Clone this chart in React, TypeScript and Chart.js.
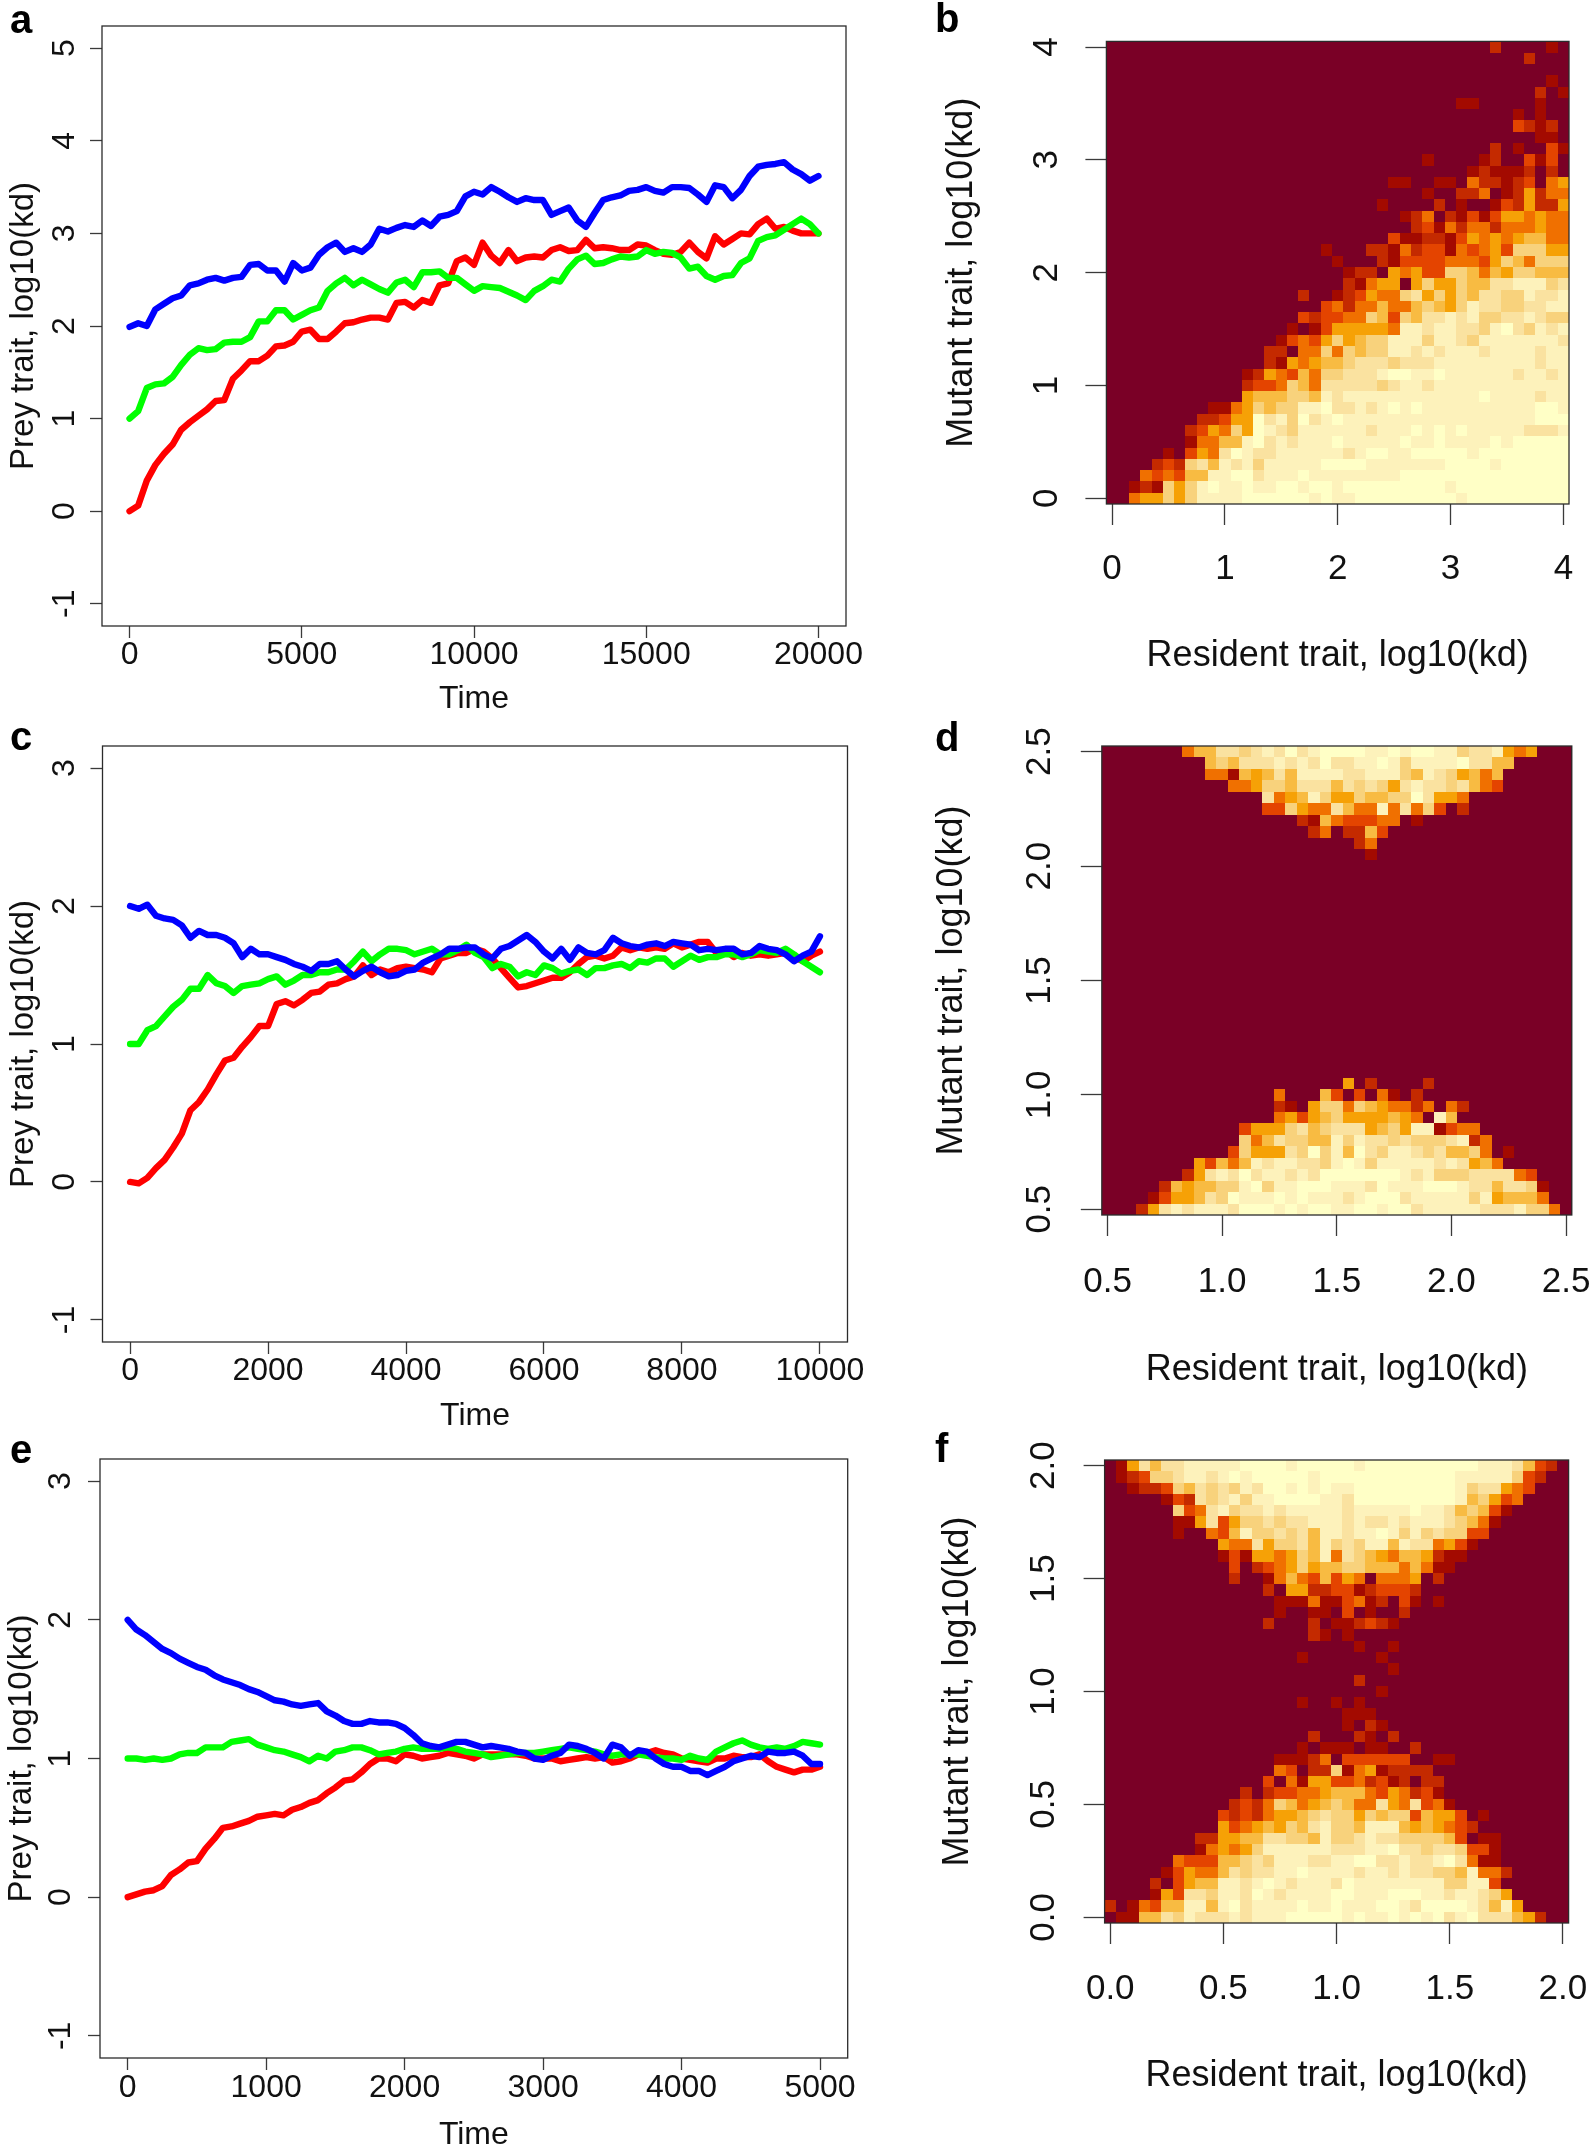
import React, { useEffect, useRef } from "react";
import { Chart, registerables } from "chart.js";

Chart.register(...registerables);

const FONT = '"Liberation Sans", Arial, sans-serif';
const RED = "#ff0000";
const GREEN = "#00ff00";
const BLUE = "#0000ff";

// ---- line panels: values at evenly spaced times ----
const aBlue = [1.99,2.03,2.0,2.18,2.24,2.3,2.33,2.44,2.46,2.5,2.52,2.49,2.52,2.53,2.66,2.67,2.6,2.6,2.48,2.68,2.6,2.63,2.77,2.85,2.9,2.8,2.84,2.8,2.88,3.05,3.02,3.06,3.09,3.07,3.14,3.08,3.18,3.2,3.24,3.4,3.45,3.42,3.5,3.45,3.39,3.34,3.38,3.36,3.36,3.2,3.24,3.28,3.14,3.07,3.22,3.36,3.39,3.41,3.46,3.47,3.5,3.46,3.44,3.5,3.5,3.49,3.42,3.34,3.52,3.5,3.38,3.47,3.62,3.72,3.74,3.75,3.77,3.69,3.64,3.57,3.62];
const aGreen = [1.0,1.08,1.33,1.37,1.38,1.45,1.58,1.69,1.76,1.74,1.75,1.82,1.83,1.83,1.88,2.05,2.05,2.17,2.17,2.07,2.12,2.17,2.2,2.38,2.46,2.52,2.44,2.5,2.45,2.4,2.36,2.47,2.5,2.42,2.58,2.58,2.59,2.52,2.52,2.45,2.38,2.43,2.42,2.41,2.37,2.33,2.28,2.38,2.43,2.5,2.48,2.62,2.72,2.76,2.67,2.68,2.72,2.75,2.74,2.75,2.82,2.78,2.8,2.79,2.74,2.62,2.64,2.54,2.5,2.54,2.55,2.68,2.73,2.92,2.96,2.98,3.04,3.1,3.16,3.1,3.0];
const aRed = [0,0.06,0.33,0.5,0.62,0.72,0.88,0.96,1.03,1.1,1.19,1.2,1.43,1.52,1.62,1.62,1.68,1.78,1.79,1.83,1.94,1.96,1.86,1.86,1.94,2.03,2.04,2.07,2.09,2.09,2.07,2.25,2.26,2.2,2.28,2.25,2.44,2.46,2.7,2.74,2.66,2.9,2.76,2.68,2.82,2.7,2.74,2.75,2.74,2.82,2.85,2.81,2.82,2.93,2.84,2.85,2.84,2.82,2.82,2.88,2.87,2.82,2.78,2.77,2.8,2.9,2.8,2.73,2.97,2.88,2.94,3.0,2.99,3.1,3.16,3.05,3.07,3.03,3.0,3.0,3.0];

const cBlue = [2.0,1.98,2.01,1.93,1.91,1.9,1.86,1.77,1.82,1.79,1.79,1.77,1.73,1.63,1.69,1.65,1.65,1.63,1.61,1.58,1.56,1.53,1.58,1.58,1.6,1.54,1.49,1.53,1.56,1.52,1.49,1.5,1.53,1.54,1.59,1.62,1.65,1.69,1.69,1.7,1.7,1.65,1.62,1.69,1.71,1.75,1.79,1.74,1.67,1.62,1.69,1.61,1.7,1.66,1.65,1.68,1.77,1.73,1.71,1.7,1.72,1.73,1.71,1.74,1.73,1.72,1.68,1.69,1.68,1.69,1.69,1.65,1.66,1.71,1.69,1.68,1.65,1.6,1.64,1.67,1.78];
const cGreen = [1.0,1.0,1.1,1.13,1.2,1.27,1.32,1.4,1.4,1.5,1.44,1.42,1.37,1.42,1.43,1.44,1.47,1.49,1.43,1.46,1.5,1.5,1.52,1.52,1.54,1.54,1.6,1.67,1.6,1.65,1.69,1.69,1.68,1.65,1.67,1.69,1.65,1.65,1.68,1.72,1.66,1.63,1.55,1.58,1.56,1.49,1.52,1.5,1.57,1.55,1.51,1.53,1.54,1.5,1.55,1.55,1.57,1.58,1.55,1.6,1.59,1.62,1.62,1.56,1.6,1.64,1.61,1.63,1.63,1.65,1.65,1.63,1.65,1.68,1.67,1.66,1.69,1.65,1.6,1.56,1.52];
const cRed = [0,-0.01,0.03,0.1,0.16,0.25,0.35,0.52,0.58,0.67,0.78,0.88,0.9,0.98,1.05,1.13,1.13,1.29,1.31,1.28,1.32,1.37,1.38,1.43,1.44,1.47,1.49,1.57,1.5,1.54,1.52,1.55,1.56,1.55,1.54,1.52,1.62,1.64,1.66,1.66,1.69,1.67,1.62,1.55,1.48,1.41,1.42,1.44,1.46,1.48,1.48,1.52,1.58,1.63,1.64,1.62,1.64,1.7,1.68,1.7,1.69,1.7,1.69,1.73,1.7,1.72,1.74,1.74,1.66,1.68,1.63,1.66,1.64,1.65,1.64,1.65,1.66,1.63,1.6,1.64,1.67];

const eBlue = [2.0,1.93,1.89,1.84,1.79,1.76,1.72,1.69,1.66,1.64,1.6,1.57,1.55,1.53,1.5,1.48,1.45,1.42,1.41,1.39,1.38,1.39,1.4,1.34,1.31,1.27,1.25,1.25,1.27,1.26,1.26,1.25,1.22,1.17,1.11,1.09,1.08,1.1,1.12,1.12,1.1,1.08,1.09,1.08,1.07,1.05,1.04,1.0,0.99,1.02,1.04,1.1,1.09,1.07,1.04,1.0,1.1,1.08,1.02,1.06,1.05,1.0,0.96,0.94,0.94,0.91,0.91,0.88,0.91,0.94,0.98,1.0,1.02,1.01,1.05,1.04,1.04,1.05,1.02,0.96,0.96];
const eGreen = [1.0,1.0,0.99,1.0,0.99,1.0,1.03,1.04,1.04,1.08,1.08,1.08,1.12,1.13,1.14,1.1,1.08,1.06,1.05,1.03,1.01,0.98,1.02,1.0,1.05,1.06,1.08,1.08,1.06,1.03,1.04,1.05,1.07,1.08,1.07,1.07,1.07,1.08,1.07,1.05,1.04,1.03,1.01,1.02,1.03,1.04,1.04,1.04,1.05,1.06,1.07,1.08,1.07,1.06,1.05,1.03,1.02,1.03,1.03,1.03,1.02,1.01,1.0,1.0,0.99,1.02,1.0,0.99,1.05,1.08,1.11,1.13,1.1,1.08,1.07,1.08,1.07,1.09,1.12,1.11,1.1];
const eRed = [0,0.02,0.04,0.05,0.08,0.16,0.2,0.25,0.26,0.35,0.42,0.5,0.51,0.53,0.55,0.58,0.59,0.6,0.59,0.63,0.65,0.68,0.7,0.75,0.79,0.84,0.85,0.9,0.96,1.0,1.0,0.98,1.03,1.02,1.0,1.01,1.02,1.04,1.03,1.02,1.0,1.03,1.03,1.03,1.03,1.03,1.02,1.0,1.0,1.0,0.98,0.99,1.0,1.01,1.0,1.01,0.97,0.98,1.0,1.03,1.04,1.06,1.04,1.03,1.0,0.99,0.98,0.97,1.0,1.0,1.02,1.01,1.01,1.03,0.98,0.94,0.92,0.9,0.92,0.92,0.94];

// ---- heat maps: one string per row, top row first, one symbol per column ----
const heatColors: Record<string, string> = {
  "0": "#7a0026", "1": "#a30a00", "2": "#c42a00", "3": "#e44400", "4": "#f07000",
  "5": "#f6a106", "6": "#f8bb42", "7": "#f8d27c", "8": "#fae2a0", "9": "#fdf2bb", a: "#ffffc6",
};
const Z = "0000000000 0000000000 0000000000 0000000000 0";

const heatB = [
  "0000000000 0000000000 0000000000 0000200001 0",
  "0000000000 0000000000 0000000000 0000000200 0",
  Z,
  "0000000000 0000000000 0000000000 0000000001 0",
  "0000000000 0000000000 0000000000 0000000020 1",
  "0000000000 0000000000 0000000000 0110000010 0",
  "0000000000 0000000000 0000000000 0000001010 0",
  "0000000000 0000000000 0000000000 0000003212 0",
  "0000000000 0000000000 0000000000 0000000011 0",
  "0000000000 0000000000 0000000000 0000201003 1",
  "0000000000 0000000000 0000000010 0001200313 0",
  "0000000000 0000000000 0000000000 0012111202 0",
  "0000000000 0000000000 0000011001 1042212304 5",
  "0000000000 0000000000 0000000010 0224012524 4",
  "0000000000 0000000000 0000100002 0100132522 5",
  "0000000000 0000000000 0000001240 2131355454 4",
  "0000000000 0000000000 0000000231 4244244454 4",
  "0000000000 0000000000 0000031122 1354545664 4",
  "0000000000 0000000001 0002214233 1434537775 5",
  "0000000000 0000000000 1000213333 4443576477 7",
  "0000000000 0000000000 0122054533 7764657766 6",
  "0000000000 0000000000 0214550575 5766889997 8",
  "0000000000 0000000200 1235447857 5768877988 9",
  "0000000000 0000000003 4244644676 5798877889 9",
  "0000000000 0000000323 3447637688 9897788987 7",
  "0000000000 0000001013 5555549989 98879a8798 9",
  "0000000000 0000013435 7567799979 9879999999 8",
  "0000000000 0000220447 4767799898 9998999989 9",
  "0000000000 0000215456 6788878889 9999999989 9",
  "0000000000 0012543647 78889aa99a 9999998998 9",
  "0000000000 0023347648 8888789989 9999999999 9",
  "0000000000 0056667769 8999999999 999a999989 9",
  "0000000001 145767799a 88989a9a99 99999999aa 9",
  "0000000022 355a897a89 a999999999 99999999aa a",
  "0000000235 475a987999 9998999a9a 9a99999888 9",
  "0000000144 669a898999 a99999a99a 9999a9aaaa a",
  "0000010354 8a98899999 989aa99aaa aa9aaaaaaa a",
  "0000232786 989799999a aaa9999999 aaaa9aaaaa a",
  "0004343669 9aa8999a99 999999aaaa aaaaaaaaaa a",
  "001217579a 99a99aa9aa 9aaaaaaaaa 9aaaaaaaaa a",
  "0045575799 99aaaaaa9a 99aaaaaaaa a9aaaaaaaa a",
];

const heatD = [
  "0000000466 887898a89a aaa99a9aa9 9788954500 0",
  "0000000006 768889898a 8899a97999 9a88660000 0",
  "0000000004 4165686999 9889997698 7564600000 0",
  "0000000000 0445776888 6878758988 7864300000 0",
  "0000000000 0000845697 5576677a85 5400000000 0",
  "0000000000 0000337544 8644948473 0200000000 0",
  "0000000000 0000000216 4333440100 0000000000 0",
  "0000000000 0000000024 0226300000 0000000000 0",
  "0000000000 0000000000 0024000000 0000000000 0",
  "0000000000 0000000000 0001000000 0000000000 0",
  Z, Z, Z, Z, Z, Z, Z, Z, Z, Z,
  Z, Z, Z, Z, Z, Z, Z, Z, Z,
  "0000000000 0000000000 0502000020 0000000000 0",
  "0000000000 0000040006 3030410200 0000000000 0",
  "0000000000 0000021057 7476544240 4200000000 0",
  "0000000000 0000045356 7555565409 6000000000 0",
  "0000000000 0035557867 8885675991 3440000000 0",
  "0000000000 0074687766 9798878777 8924000000 0",
  "0000000000 03755587a7 96a8799878 6674010000 0",
  "0000000053 6469899887 9a97999998 9856400000 0",
  "0000000258 98a899898a aaaaaa9897 7788884300 0",
  "0000026566 779a799aaa 9998a999aa a988688710 0",
  "0000135568 7a999a9a99 989aaa8999 9979566640 0",
  "0002589899 98aaa9a9aa 99aa9aa899 9998889774 0",
];

const heatF = [
  "0158688999 99aaaa9aaa aa9aaaaaaa aaa9998632 0",
  "0123778998 9a9aaaaa9a aaaaaaaaaa a999997320 0",
  "0012237687 8798aa9a9a 99aaaaaaaa a978854300 0",
  "0000013287 89799aaaa9 98aaaaaaaa a967534000 0",
  "0000007348 9788989999 9899999a99 8676310000 0",
  "0000001158 3577878899 9898898999 8764100000 0",
  "0000001004 3697787869 9899a97978 7733000000 0",
  "0000000000 5448577869 7879969884 5310000000 0",
  "0000000000 1315545769 4876546652 1100000000 0",
  "0000000000 0302345756 6776664641 1000000000 0",
  "0000000000 0200146436 3540444502 0000000000 0",
  "0000000000 0000205522 3312333200 0000000000 0",
  "0000000000 0000011141 1341203101 0000000000 0",
  "0000000000 0000010011 0301002000 0000000000 0",
  "0000000000 0000200020 1123210000 0000000000 0",
  "0000000000 0000000021 0100000000 0000000000 0",
  "0000000000 0000000000 0010010000 0000000000 0",
  "0000000000 0000000100 0000100000 0000000000 0",
  "0000000000 0000000000 0000010000 0000000000 0",
  "0000000000 0000000000 0020000000 0000000000 0",
  "0000000000 0000000000 0000100000 0000000000 0",
  "0000000000 0000000100 1010000000 0000000000 0",
  "0000000000 0000000000 0111000000 0000000000 0",
  "0000000000 0000000000 0102100000 0000000000 0",
  "0000000000 0000000020 0021020000 0000000000 0",
  "0000000000 0000000101 1101100200 0000000000 0",
  "0000000000 0000011124 0333333001 1000000000 0",
  "0000000000 0000043022 7145122220 0000000000 0",
  "0000000000 0000304155 3342312022 0000000000 0",
  "0000000000 0020233445 6664354231 0000000000 0",
  "0000000000 0232476456 7644854834 1000000000 0",
  "0000000000 3232455678 7757677365 5301000000 0",
  "0000000000 5345657689 7769996565 4320000000 0",
  "0000000022 5566887769 7789887777 6301100000 0",
  "0000000014 5457999999 88899a8878 8733100000 0",
  "0000004333 6678799988 99aa889889 a841100000 0",
  "0000013544 6878899a99 9989989887 7694420000 0",
  "0000203566 9989a98999 8a99999999 7799300000 0",
  "0000153887 998a989999 aa999aaa99 8998750000 0",
  "2014366996 9a89999a99 a999aa98aa aa98695000 0",
  "0116687988 898999aaaa a9a99a9a9a 89a8886520 0",
];

// ---- axes ----
const timeTicksA = [0, 5000, 10000, 15000, 20000];
const timeTicksC = [0, 2000, 4000, 6000, 8000, 10000];
const timeTicksE = [0, 1000, 2000, 3000, 4000, 5000];
const preyTicksA = [-1, 0, 1, 2, 3, 4, 5];
const preyTicksC = [-1, 0, 1, 2, 3];
const traitTicksB = [0, 1, 2, 3, 4];
const traitTicksD = [0.5, 1.0, 1.5, 2.0, 2.5];
const traitTicksF = [0.0, 0.5, 1.0, 1.5, 2.0];

const PREY_LABEL = "Prey trait, log10(kd)";
const MUTANT_LABEL = "Mutant trait, log10(kd)";
const RESIDENT_LABEL = "Resident trait, log10(kd)";

type Box = { canvasL: number; canvasT: number; canvasR: number; canvasB: number; l: number; r: number; t: number; b: number };

const boxPlugin = {
  id: "rBox",
  afterDatasetsDraw(chart: any) {
    const { ctx, chartArea: a } = chart;
    ctx.save();
    ctx.strokeStyle = "#2b2b2b";
    ctx.lineWidth = 1.3;
    ctx.strokeRect(a.left, a.top, a.right - a.left, a.bottom - a.top);
    ctx.restore();
  },
};

const heatPlugin = {
  id: "heatCells",
  beforeDatasetsDraw(chart: any) {
    const cfg = chart.options.plugins.heatCells;
    if (!cfg) return;
    const { ctx } = chart;
    const sx = chart.scales.x;
    const sy = chart.scales.y;
    const hw = cfg.step / 2;
    ctx.save();
    for (const c of chart.data.datasets[0].data) {
      const x0 = Math.round(sx.getPixelForValue(c.x - hw));
      const x1 = Math.round(sx.getPixelForValue(c.x + hw));
      const y0 = Math.round(sy.getPixelForValue(c.y + hw));
      const y1 = Math.round(sy.getPixelForValue(c.y - hw));
      ctx.fillStyle = heatColors[c.v];
      ctx.fillRect(x0, y0, x1 - x0, y1 - y0);
    }
    ctx.restore();
  },
};

function axis(o: {
  min: number; max: number; ticks: number[]; digits: number; title: string; font: number; titleFont: number;
  tick: number; pad: number; titlePad: any; size: number; vertical: boolean;
}) {
  return {
    type: "linear",
    min: o.min,
    max: o.max,
    afterBuildTicks: (s: any) => { s.ticks = o.ticks.map((value) => ({ value })); },
    afterFit: (s: any) => { if (o.vertical) s.width = o.size; else s.height = o.size; },
    border: { display: false },
    grid: { drawOnChartArea: false, drawTicks: true, tickLength: o.tick, tickColor: "#3a3a3a", tickWidth: 1.3 },
    ticks: {
      autoSkip: false,
      color: "#111",
      padding: o.pad,
      font: { family: FONT, size: o.font, lineHeight: 1.1 },
      callback: (v: any) => Number(v).toFixed(o.digits),
      ...(o.vertical ? { minRotation: 90, maxRotation: 90, crossAlign: "center" } : { maxRotation: 0, minRotation: 0 }),
    },
    title: {
      display: true,
      text: o.title,
      color: "#111",
      font: { family: FONT, size: o.titleFont, lineHeight: 1 },
      padding: o.titlePad,
    },
  };
}

function useChart(ref: any, make: () => any) {
  useEffect(() => {
    const chart = new Chart(ref.current, make());
    return () => chart.destroy();
  }, []);
}

function layoutOf(b: Box) {
  return { autoPadding: false, padding: { left: 0, top: b.t - b.canvasT, right: b.canvasR - b.r, bottom: 0 } };
}

function canvasStyle(b: Box): React.CSSProperties {
  return { position: "absolute", left: b.canvasL, top: b.canvasT, width: b.canvasR - b.canvasL, height: b.canvasB - b.canvasT };
}

function LinePanel(p: {
  box: Box; tmin: number; tmax: number; tEnd: number; ymin: number; ymax: number; xt: number[]; yt: number[];
  red: number[]; green: number[]; blue: number[]; yPad: number; xPad: number; yTitlePad: number;
}) {
  const ref = useRef<HTMLCanvasElement>(null);
  useChart(ref, () => {
    const series = (vals: number[], color: string) => ({
      data: vals.map((y, i) => ({ x: (i * p.tEnd) / (vals.length - 1), y })),
      borderColor: color,
      borderWidth: 6.4,
      pointRadius: 0,
      tension: 0,
      borderJoinStyle: "round",
      borderCapStyle: "round",
    });
    return {
      type: "line",
      data: { datasets: [series(p.blue, BLUE), series(p.green, GREEN), series(p.red, RED)].map((d, i) => ({ ...d, order: i })) },
      plugins: [boxPlugin],
      options: {
        animation: false,
        responsive: false,
        layout: layoutOf(p.box),
        plugins: { legend: { display: false }, tooltip: { enabled: false } },
        scales: {
          x: axis({ min: p.tmin, max: p.tmax, ticks: p.xt, digits: 0, title: "Time", font: 32, titleFont: 32, tick: 12, pad: p.xPad, titlePad: { bottom: 0 }, size: p.box.canvasB - p.box.b, vertical: false }),
          y: axis({ min: p.ymin, max: p.ymax, ticks: p.yt, digits: 0, title: PREY_LABEL, font: 32, titleFont: 33, tick: 12, pad: p.yPad, titlePad: { top: p.yTitlePad }, size: p.box.l - p.box.canvasL, vertical: true }),
        },
      },
    };
  });
  const b = p.box;
  return <canvas ref={ref} width={b.canvasR - b.canvasL} height={b.canvasB - b.canvasT} style={canvasStyle(b)} />;
}

function HeatPanel(p: {
  box: Box; origin: number; step: number; rows: string[]; ticks: number[]; digits: number; yPad: number; xPad: number; yTitlePad: number;
}) {
  const ref = useRef<HTMLCanvasElement>(null);
  useChart(ref, () => {
    const cells: any[] = [];
    const rows = p.rows.map((r) => r.replace(/ /g, ""));
    rows.forEach((row, r) => {
      [...row].forEach((v, c) => {
        cells.push({ x: p.origin + c * p.step, y: p.origin + (rows.length - 1 - r) * p.step, v });
      });
    });
    const lo = p.origin - p.step / 2;
    const hi = p.origin + (rows.length - 1) * p.step + p.step / 2;
    return {
      type: "scatter",
      data: { datasets: [{ data: cells, pointRadius: 0 }] },
      plugins: [heatPlugin, boxPlugin],
      options: {
        animation: false,
        responsive: false,
        layout: layoutOf(p.box),
        plugins: { legend: { display: false }, tooltip: { enabled: false }, heatCells: { step: p.step } },
        scales: {
          x: axis({ min: lo, max: hi, ticks: p.ticks, digits: p.digits, title: RESIDENT_LABEL, font: 35, titleFont: 36, tick: 21, pad: p.xPad, titlePad: { bottom: 0 }, size: p.box.canvasB - p.box.b, vertical: false }),
          y: axis({ min: lo, max: hi, ticks: p.ticks, digits: p.digits, title: MUTANT_LABEL, font: 35, titleFont: 36, tick: 21, pad: p.yPad, titlePad: { top: p.yTitlePad }, size: p.box.l - p.box.canvasL, vertical: true }),
        },
      },
    };
  });
  const b = p.box;
  return <canvas ref={ref} width={b.canvasR - b.canvasL} height={b.canvasB - b.canvasT} style={canvasStyle(b)} />;
}

const panelLetters = [
  { text: "a", x: 10, y: -1 },
  { text: "b", x: 935, y: -2 },
  { text: "c", x: 10, y: 716 },
  { text: "d", x: 935, y: 717 },
  { text: "e", x: 10, y: 1429 },
  { text: "f", x: 935, y: 1428 },
];

export default function App() {
  return (
    <div style={{ position: "absolute", left: 0, top: 0, width: 1594, height: 2150, overflow: "hidden", background: "#fff" }}>
      <LinePanel box={{ canvasL: 0, canvasT: -70, canvasR: 930, canvasB: 715, l: 102, r: 846, t: 26, b: 626 }}
        tmin={-800} tmax={20800} tEnd={20000} ymin={-1.24} ymax={5.24} xt={timeTicksA} yt={preyTicksA}
        red={aRed} green={aGreen} blue={aBlue} yPad={11} xPad={0} yTitlePad={7} />
      <LinePanel box={{ canvasL: 0, canvasT: 660, canvasR: 930, canvasB: 1432, l: 102.5, r: 847.5, t: 746, b: 1342 }}
        tmin={-400} tmax={10400} tEnd={10000} ymin={-1.16} ymax={3.16} xt={timeTicksC} yt={preyTicksC}
        red={cRed} green={cGreen} blue={cBlue} yPad={11} xPad={0} yTitlePad={7} />
      <LinePanel box={{ canvasL: 0, canvasT: 1370, canvasR: 930, canvasB: 2151, l: 100, r: 847.7, t: 1459, b: 2058 }}
        tmin={-200} tmax={5200} tEnd={5000} ymin={-1.16} ymax={3.16} xt={timeTicksE} yt={preyTicksC}
        red={eRed} green={eGreen} blue={eBlue} yPad={13} xPad={1} yTitlePad={5} />
      <HeatPanel box={{ canvasL: 930, canvasT: -70, canvasR: 1690, canvasB: 674, l: 1106.4, r: 1569, t: 41.4, b: 504 }}
        origin={0} step={0.1} rows={heatB} ticks={traitTicksB} digits={0} yPad={28} xPad={25} yTitlePad={14} />
      <HeatPanel box={{ canvasL: 930, canvasT: 660, canvasR: 1690, canvasB: 1388, l: 1101.8, r: 1571.8, t: 746, b: 1215 }}
        origin={0.5} step={0.05} rows={heatD} ticks={traitTicksD} digits={1} yPad={16} xPad={27} yTitlePad={4} />
      <HeatPanel box={{ canvasL: 930, canvasT: 1370, canvasR: 1690, canvasB: 2094, l: 1104.6, r: 1568.6, t: 1460, b: 1923 }}
        origin={0} step={0.05} rows={heatF} ticks={traitTicksF} digits={1} yPad={15} xPad={26} yTitlePad={10} />
      {panelLetters.map((l) => (
        <div key={l.text} style={{ position: "absolute", left: l.x, top: l.y, font: `bold 40px ${FONT}`, color: "#000", lineHeight: "40px" }}>{l.text}</div>
      ))}
    </div>
  );
}
